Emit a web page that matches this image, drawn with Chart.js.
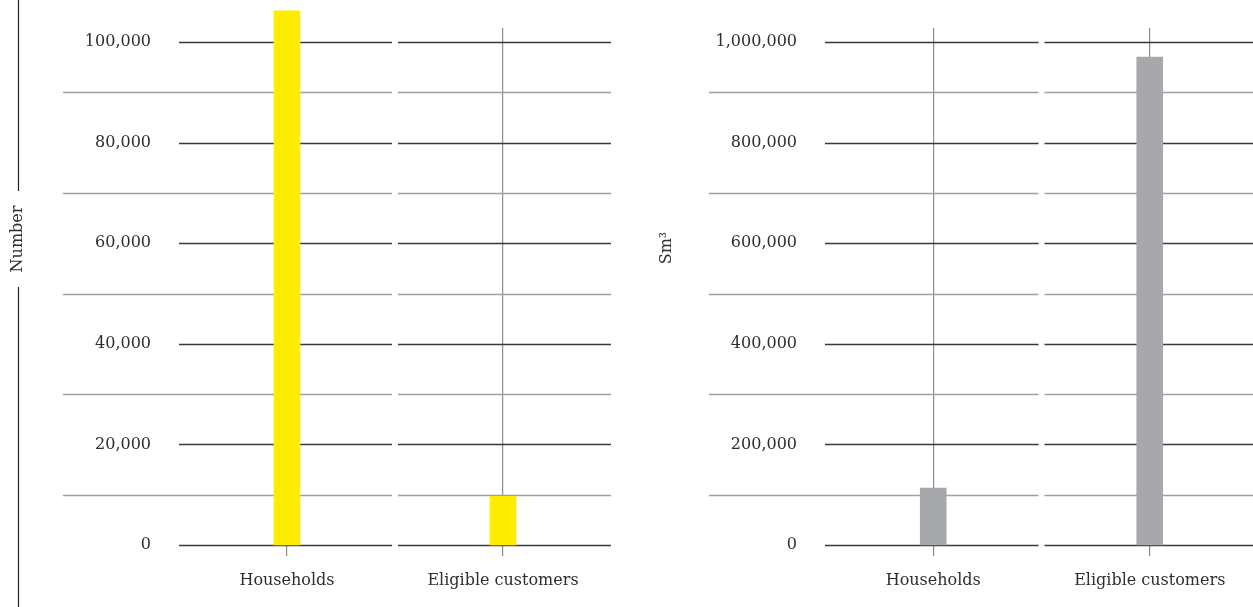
<!DOCTYPE html>
<html>
<head>
<meta charset="utf-8">
<script src="https://cdn.jsdelivr.net/npm/chart.js@4/dist/chart.umd.min.js"></script>
<style>
  html, body { margin: 0; padding: 0; background: #fff; overflow: hidden; }
  body { width: 1253px; height: 607px; position: relative; }
  #wrapL { position: absolute; left: 0; top: 0; width: 620px; height: 607px; }
  #wrapR { position: absolute; left: 620px; top: 0; width: 640px; height: 607px; }
</style>
</head>
<body>
<div id="wrapL"><canvas id="left"></canvas></div>
<div id="wrapR"><canvas id="right"></canvas></div>
<script>
// ---- data ----
const categories = ["Households", "Eligible customers"];
const numberValues = [106200, 9700];
const volumeValues = [113000, 970000];
const numberTicks = [0, 20000, 40000, 60000, 80000, 100000];
const volumeTicks = [0, 200000, 400000, 600000, 800000, 1000000];
const leftTitle = "Number";
const rightTitle = "Sm\u00B3";

const FONT = "'DejaVu Serif', 'Liberation Serif', serif";
const TEXT = "#2e2e2e";

function segGridPlugin(step, majorStep, top, titleText, titleX, titleY, drawAxisLine) {
  return {
    id: 'segGrid',
    beforeDatasetsDraw(chart) {
      const ctx = chart.ctx;
      const xs = chart.scales.x, ys = chart.scales.y;
      const ca = chart.chartArea;
      const half = (xs.getPixelForValue(1) - xs.getPixelForValue(0)) / 2;
      const gap = 3;
      ctx.save();
      for (let v = 0; v <= top; v += step) {
        const y = Math.round(ys.getPixelForValue(v)) + 0.5;
        const major = v % majorStep === 0;
        ctx.strokeStyle = major ? '#3a3a3a' : '#a0a0a0';
        ctx.lineWidth = 1.3;
        const n = chart.data.labels.length;
        for (let i = 0; i < n; i++) {
          const c = xs.getPixelForValue(i);
          let x0 = c - half + (i === 0 ? 0 : gap);
          let x1 = c + half - (i === n - 1 ? 0 : gap);
          if (i === 0 && !major) x0 = ca.left - 116;
          ctx.beginPath();
          ctx.moveTo(x0, y);
          ctx.lineTo(x1, y);
          ctx.stroke();
        }
      }
      ctx.restore();
    },
    afterDraw(chart) {
      const ctx = chart.ctx;
      ctx.save();
      ctx.font = "16px " + FONT;
      ctx.fillStyle = TEXT;
      ctx.textAlign = 'center';
      ctx.textBaseline = 'middle';
      ctx.translate(titleX, titleY);
      ctx.rotate(-Math.PI / 2);
      ctx.fillText(titleText, 0, 0);
      ctx.restore();
      if (drawAxisLine) {
        ctx.save();
        ctx.strokeStyle = '#222';
        ctx.lineWidth = 1.2;
        ctx.beginPath();
        ctx.moveTo(titleX + 0.5, 0);
        ctx.lineTo(titleX + 0.5, 191);
        ctx.moveTo(titleX + 0.5, 287);
        ctx.lineTo(titleX + 0.5, 607);
        ctx.stroke();
        ctx.restore();
      }
    }
  };
}

function makeChart(id, values, color, ticks, topVal, axisWidth, padRight, plugin) {
  return new Chart(document.getElementById(id), {
    type: 'bar',
    data: {
      labels: categories,
      datasets: [{
        data: values,
        backgroundColor: color,
        borderWidth: 0,
        barThickness: 26,
        clip: false
      }]
    },
    options: {
      responsive: true,
      maintainAspectRatio: false,
      animation: false,
      layout: { padding: { top: 28, right: padRight, left: 0, bottom: 0 } },
      plugins: { legend: { display: false }, tooltip: { enabled: false } },
      scales: {
        x: {
          grid: { offset: false, color: '#8c8c8c', lineWidth: 1.2, tickLength: 11, drawOnChartArea: true },
          border: { display: false },
          ticks: { color: TEXT, font: { family: FONT, size: 16 }, padding: 15, maxRotation: 0 },
          afterFit(s) { s.height = 62; }
        },
        y: {
          min: 0,
          max: topVal,
          grid: { display: false, drawTicks: false },
          border: { display: false },
          afterBuildTicks(s) { s.ticks = ticks.map(v => ({ value: v })); },
          ticks: {
            color: TEXT,
            font: { family: FONT, size: 16 },
            padding: 28,
            callback: v => v.toLocaleString('en-US')
          },
          afterFit(s) { s.width = axisWidth; s.paddingTop = 0; s.paddingBottom = 0; }
        }
      }
    },
    plugins: [plugin]
  });
}

// left: 0 -> y545, 100000 -> y42 ; chart top at y28
const leftTop = 100000 + 14 * (100000 / 503);
makeChart('left', numberValues, '#FFED00', numberTicks, leftTop, 179, 9,
  segGridPlugin(10000, 20000, 100000, leftTitle, 18, 239, true));
const rightTop = 1000000 + 14 * (1000000 / 503);
makeChart('right', volumeValues, '#A7A8AC', volumeTicks, rightTop, 205, 2,
  segGridPlugin(100000, 200000, 1000000, rightTitle, 47, 248, false));
</script>
</body>
</html>
